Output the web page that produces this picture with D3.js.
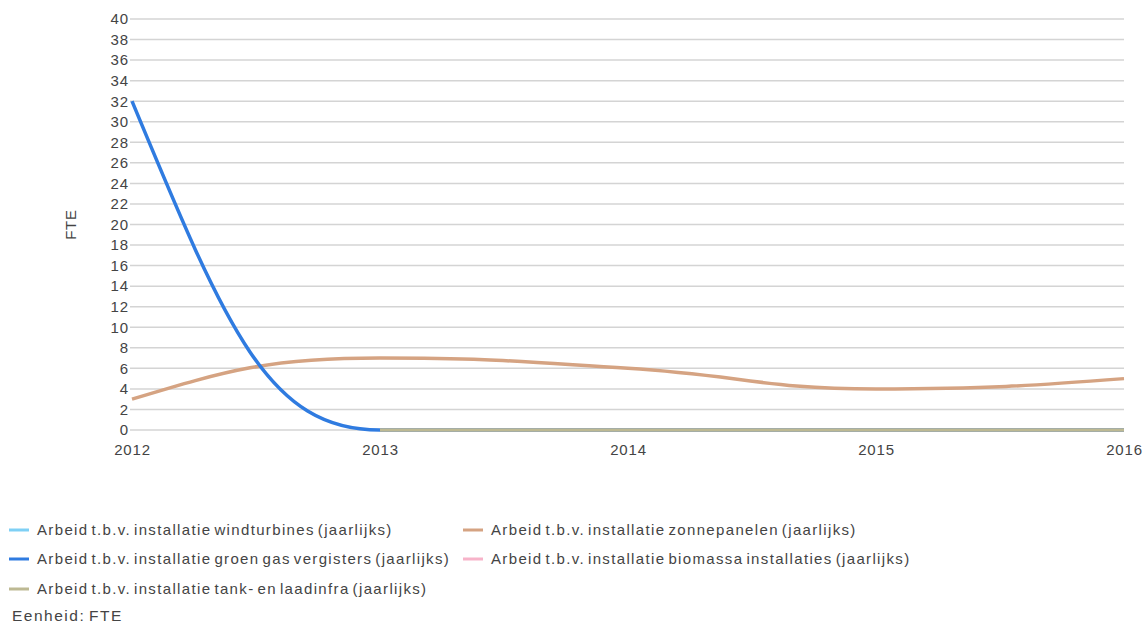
<!DOCTYPE html>
<html>
<head>
<meta charset="utf-8">
<script src="https://cdn.jsdelivr.net/npm/d3@7"></script>
<style>
body { margin: 0; background: #fff; }
svg { font-family: "Liberation Sans", Arial, sans-serif; }
</style>
</head>
<body>
<script>
var years = [2012, 2013, 2014, 2015, 2016];
var yTicks = d3.range(0, 41, 2);

var windturbines = [null, 0, 0, 0, 0];
var zonnepanelen = [3, 7, 6, 4, 5];
var groenGas = [32, 0, 0, 0, 0];
var biomassa = [null, 0, 0, 0, 0];
var tankLaadinfra = [null, 0, 0, 0, 0];

var seriesNames = [
    "Arbeid t.b.v. installatie windturbines (jaarlijks)",
    "Arbeid t.b.v. installatie zonnepanelen (jaarlijks)",
    "Arbeid t.b.v. installatie groen gas vergisters (jaarlijks)",
    "Arbeid t.b.v. installatie biomassa installaties (jaarlijks)",
    "Arbeid t.b.v. installatie tank- en laadinfra (jaarlijks)"
];
var seriesColors = ["#7fd0f5", "#d5a382", "#2f7be0", "#f7b3c9", "#bdb993"];
var seriesValues = [windturbines, zonnepanelen, groenGas, biomassa, tankLaadinfra];
// drawing order: zero lines first, then zon, groen gas on top of zon
var drawOrder = [0, 3, 1, 2, 4];

var width = 1147, height = 625;
var margin = {top: 19, left: 132, right: 23, bottom: 195};

var svg = d3.select("body").append("svg")
        .attr("width", width)
        .attr("height", height);

var x = d3.scaleLinear().domain([2012, 2016]).range([margin.left, width - margin.right]);
var y = d3.scaleLinear().domain([0, 40]).range([height - margin.bottom, margin.top]);

// smoothing like the original chart: flat at local extremes, long handles
function smoothCurve(context) {
    var pts;
    return {
        areaStart: function(){}, areaEnd: function(){},
        lineStart: function(){ pts = []; },
        point: function(px, py){ pts.push([+px, +py]); },
        lineEnd: function(){
            var n = pts.length;
            if (!n) return;
            context.moveTo(pts[0][0], pts[0][1]);
            if (n === 1) return;
            if (n === 2) { context.lineTo(pts[1][0], pts[1][1]); return; }
            var m = pts.map(function(p, i){
                if (i === 0 || i === n - 1) return null;
                var a = pts[i - 1], b = pts[i + 1];
                if ((p[1] - a[1]) * (b[1] - p[1]) <= 0) return 0;
                return (b[1] - a[1]) / (b[0] - a[0]);
            });
            for (var i = 0; i < n - 1; i++) {
                var p = pts[i], q = pts[i + 1], h = 0.45 * (q[0] - p[0]);
                var c1 = m[i] === null ? null : [p[0] + h, p[1] + h * m[i]];
                var c2 = m[i + 1] === null ? null : [q[0] - h, q[1] - h * m[i + 1]];
                if (!c1) c1 = [p[0] + 0.7 * (c2[0] - p[0]), p[1] + 0.7 * (c2[1] - p[1])];
                if (!c2) c2 = [q[0] + 0.7 * (c1[0] - q[0]), q[1] + 0.7 * (c1[1] - q[1])];
                context.bezierCurveTo(c1[0], c1[1], c2[0], c2[1], q[0], q[1]);
            }
        }
    };
}

// gridlines
svg.append("g")
        .selectAll("line")
        .data(yTicks)
        .enter().append("line")
        .attr("x1", x(2012) - 2)
        .attr("x2", x(2016))
        .attr("y1", function(d){return y(d);})
        .attr("y2", function(d){return y(d);})
        .attr("stroke", "#d4d4d4")
        .attr("stroke-width", 1.5);

var yAxis = svg.append("g")
        .attr("transform", "translate(" + (margin.left - 4) + ",0)")
        .call(d3.axisLeft(y).tickValues(yTicks).tickSize(0).tickPadding(0));
yAxis.select(".domain").remove();
yAxis.selectAll("text")
        .attr("fill", "#444")
        .attr("dx", "0.7")
        .style("font-size", "15px")
        .style("letter-spacing", "0.7px");

var xAxis = svg.append("g")
        .attr("transform", "translate(0," + (y(0) + 14) + ")")
        .call(d3.axisBottom(x).tickValues(years).tickFormat(d3.format("d")).tickSize(0).tickPadding(0));
xAxis.select(".domain").remove();
xAxis.selectAll("text")
        .attr("fill", "#444")
        .style("font-size", "15px")
        .style("letter-spacing", "0.8px");

svg.append("text")
        .attr("transform", "translate(76," + y(20) + ") rotate(-90)")
        .attr("text-anchor", "middle")
        .attr("fill", "#444")
        .style("font-size", "15px")
        .style("letter-spacing", "0.8px")
        .text("FTE");

var line = d3.line()
        .defined(function(d){return d.v !== null;})
        .x(function(d){return x(d.year);})
        .y(function(d){return y(d.v);})
        .curve(smoothCurve);

svg.append("g")
        .selectAll("path")
        .data(drawOrder)
        .enter().append("path")
        .attr("fill", "none")
        .attr("stroke", function(i){return seriesColors[i];})
        .attr("stroke-width", 3.5)
        .attr("d", function(i){
            return line(years.map(function(yr, j){return {year: yr, v: seriesValues[i][j]};}));
        });

// legend
var legendItems = [
    {i: 0, x: 9, y: 530},
    {i: 1, x: 463, y: 530},
    {i: 2, x: 9, y: 559},
    {i: 3, x: 463, y: 559},
    {i: 4, x: 9, y: 589}
];
var legend = svg.append("g")
        .selectAll("g")
        .data(legendItems)
        .enter().append("g")
        .attr("transform", function(d){return "translate(" + d.x + "," + d.y + ")";});
legend.append("line")
        .attr("x1", 0).attr("x2", 20)
        .attr("stroke", function(d){return seriesColors[d.i];})
        .attr("stroke-width", 3);
legend.append("text")
        .attr("x", 28)
        .attr("dy", "0.35em")
        .attr("fill", "#444")
        .style("font-size", "15px")
        .style("letter-spacing", "1.35px")
        .style("word-spacing", "-2.5px")
        .text(function(d){return seriesNames[d.i];});

svg.append("text")
        .attr("x", 12)
        .attr("y", 616)
        .attr("dy", "0.35em")
        .attr("fill", "#444")
        .style("font-size", "15.5px")
        .style("letter-spacing", "1.5px")
        .style("word-spacing", "-2px")
        .text("Eenheid: FTE");
</script>
</body>
</html>
